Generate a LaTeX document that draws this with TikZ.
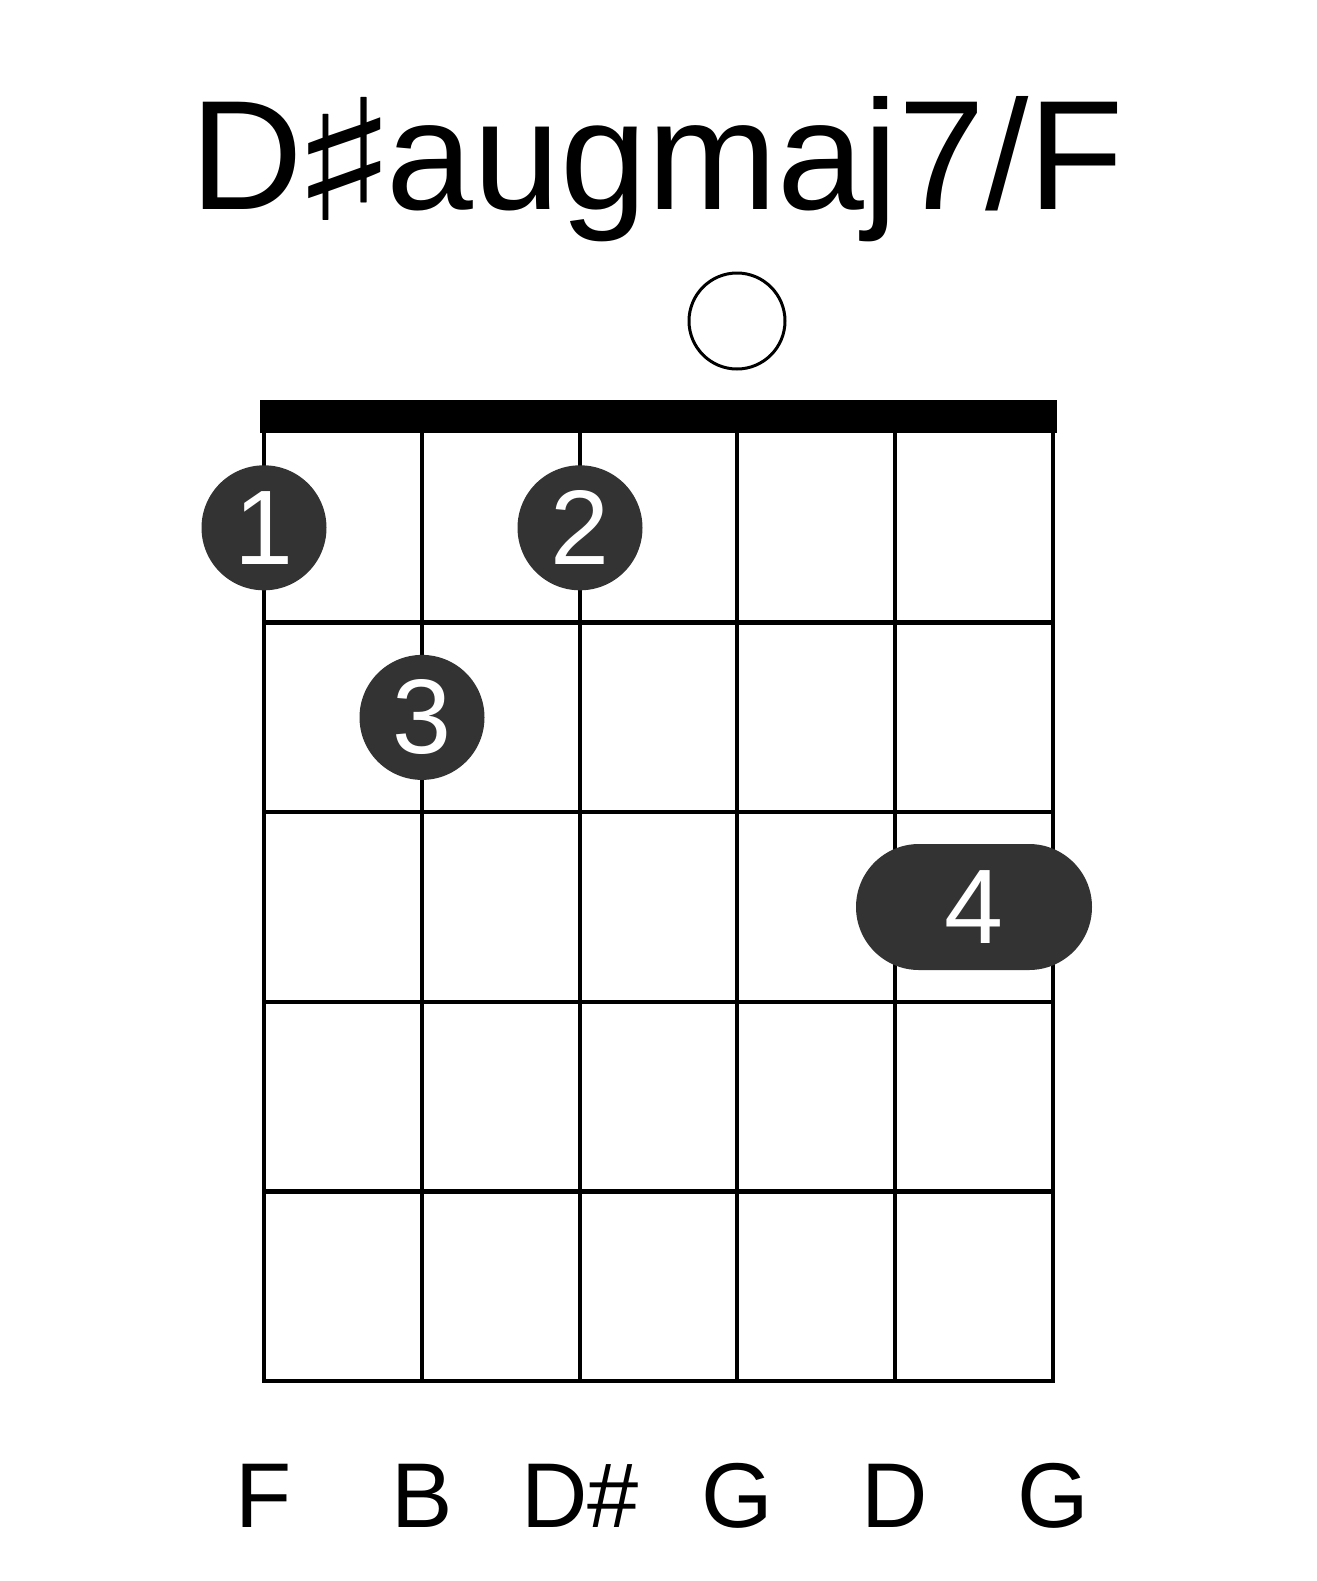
\documentclass[tikz,border=0pt]{standalone}
\usepackage{fontspec}
\setmainfont{Liberation Sans}
\newfontfamily\sharpfont{DejaVu Sans}
\usetikzlibrary{positioning}
\definecolor{dotgray}{HTML}{333333}
\newcommand{\bigsharp}{\kern-6.5pt\raisebox{-5.5pt}{\scalebox{1.46}[1.08]{\sharpfont ♯}}\kern-6.5pt}

\begin{document}
\begin{tikzpicture}[x=0.5pt,y=-0.5pt,
  grid/.style={line width=2.2pt,line cap=rect},
  finger/.style={circle,fill=dotgray,text=white,inner sep=0pt,minimum size=62.5pt,font=\fontsize{53}{53}\selectfont},
  barre/.style={rectangle,rounded corners=31.5pt,fill=dotgray,text=white,inner sep=0pt,minimum width=118pt,minimum height=63pt,font=\fontsize{53}{53}\selectfont},
  openstr/.style={circle,draw,line width=1.5pt,inner sep=0pt,minimum size=48pt},
  strname/.style={anchor=base,inner sep=0pt,font=\fontsize{46}{46}\selectfont}]
\useasboundingbox (0,0) rectangle (1317,1581);
% chord name
\node[anchor=base,inner sep=0pt,font=\fontsize{78}{78}\selectfont] (title) at (657,209) {D\bigsharp augmaj7/F};
% strings
\coordinate (t1) at (264,433);  \coordinate (b1) at (264,1381);
\coordinate (t2) at (422,433);  \coordinate (b2) at (422,1381);
\coordinate (t3) at (580,433);  \coordinate (b3) at (580,1381);
\coordinate (t4) at (737,433);  \coordinate (b4) at (737,1381);
\coordinate (t5) at (895,433);  \coordinate (b5) at (895,1381);
\coordinate (t6) at (1053,433); \coordinate (b6) at (1053,1381);
\draw[grid] (t1)--(b1);
\draw[grid] (t2)--(b2);
\draw[grid] (t3)--(b3);
\draw[grid] (t4)--(b4);
\draw[grid] (t5)--(b5);
\draw[grid] (t6)--(b6);
% frets
\coordinate (l1) at (264,622.6);  \coordinate (r1) at (1053,622.6);
\coordinate (l2) at (264,812.2);  \coordinate (r2) at (1053,812.2);
\coordinate (l3) at (264,1001.8); \coordinate (r3) at (1053,1001.8);
\coordinate (l4) at (264,1191.4); \coordinate (r4) at (1053,1191.4);
\draw[grid] (l1)--(r1);
\draw[grid] (l2)--(r2);
\draw[grid] (l3)--(r3);
\draw[grid] (l4)--(r4);
\draw[grid] (b1)--(b6);
% nut
\coordinate (nutl) at (260,400);
\coordinate (nutr) at (1057,433);
\fill (nutl) rectangle (nutr);
% open string
\node[openstr] (o4) at (737,321) {};
% fingers
\node[finger] (f1) at (264,527.8) {1};
\node[finger] (f2) at (580,527.8) {2};
\node[finger] (f3) at (422,717.4) {3};
\node[barre] (f4) at (974,907) {4};
% string names
\node[strname] (n1) at (264,1527) {F};
\node[strname] (n2) at (422,1527) {B};
\node[strname] (n3) at (580,1527) {D\#};
\node[strname] (n4) at (737,1527) {G};
\node[strname] (n5) at (895,1527) {D};
\node[strname] (n6) at (1053,1527) {G};
\end{tikzpicture}
\end{document}
